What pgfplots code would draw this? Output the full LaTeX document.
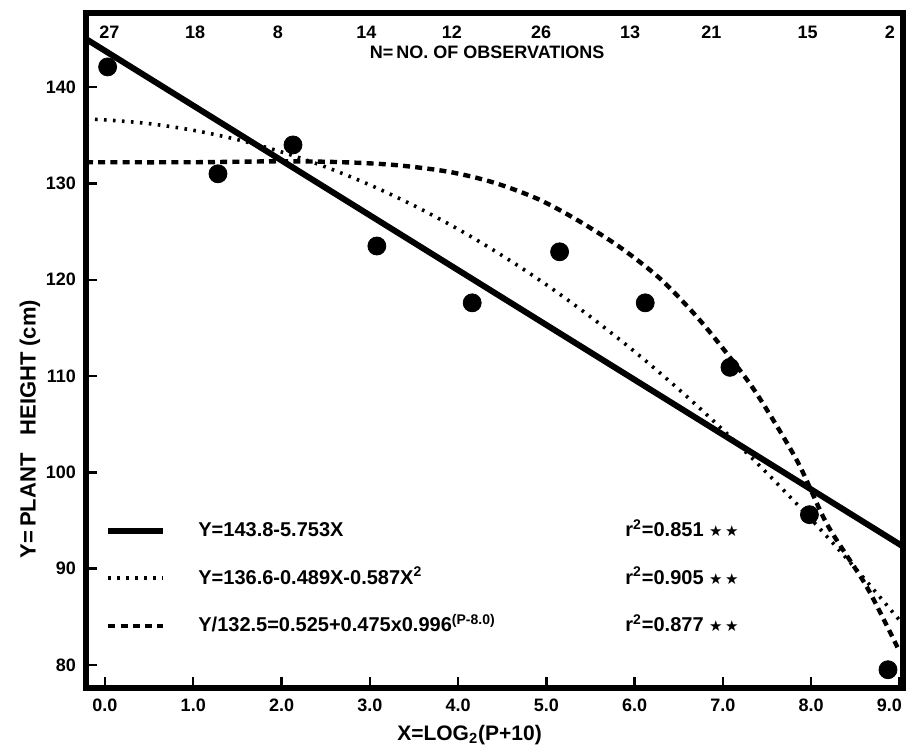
\documentclass[border=0pt]{standalone}
\usepackage{fontspec}
\setmainfont{Liberation Sans}
\newfontfamily\sym{DejaVu Sans}
\usepackage{pgfplots}
\pgfplotsset{compat=1.18}
\usetikzlibrary{calc}

\newcommand{\stars}{{\sym\fontsize{7.5}{8}\selectfont ★\,★}}

\begin{document}
\begin{tikzpicture}
\begin{axis}[
  scale only axis,
  width=408.5pt, height=337.5pt,
  xmin=-0.215, xmax=9.04,
  ymin=77.6, ymax=147.7,
  axis line style={line width=2.6pt},
  xtick={0,1,2,3,4,5,6,7,8,9},
  xticklabels={\textbf{0.0},\textbf{1.0},\textbf{2.0},\textbf{3.0},\textbf{4.0},\textbf{5.0},\textbf{6.0},\textbf{7.0},\textbf{8.0},{\textbf{9.0}\rule{10pt}{0pt}}},
  ytick={80,90,100,110,120,130,140},
  yticklabels={\textbf{80},\textbf{90},\textbf{100},\textbf{110},\textbf{120},\textbf{130},\textbf{140}},
  tick align=inside,
  xtick pos=bottom, ytick pos=left,
  major tick length=5.5pt,
  tick style={line width=1.2pt, black},
  ticklabel style={font=\bfseries\fontsize{9}{10}\selectfont},
  xticklabel style={yshift=-2pt},
  yticklabel style={xshift=-1.5pt},
  clip=false,
  legend image code/.code={
    \draw[#1] (0pt,0pt) -- (27.5pt,0pt);
    \path[draw=none] (0pt,0pt) -- (45pt,0pt);
  },
  legend style={at={(axis cs:0,89.0)}, anchor=west, draw=none, fill=none,
    inner sep=0pt, row sep=13.75pt,
    nodes={inner sep=0pt, text height=8pt, text depth=2pt,
      font=\bfseries\fontsize{10}{12}\selectfont}},
  legend cell align=left,
]
% fitted lines
\addplot[black, line width=3pt] coordinates {(-0.215,145.0) (9.04,92.3)};
\addlegendentry{\makebox[213.5pt][l]{Y=143.8-5.753X}r\textsuperscript{2}=0.851 \stars}

\addplot[black, line width=1.8pt, dash pattern=on 1.3pt off 3.2pt, smooth]
  coordinates {(-0.215,136.68) (0,136.6) (0.5,136.21) (1,135.52) (1.5,134.55) (2,133.27)
    (2.5,131.71) (3,129.85) (3.5,127.70) (4,125.25) (4.5,122.51) (5,119.48) (5.5,116.15)
    (6,112.53) (6.5,108.62) (7,104.41) (7.5,99.91) (8,95.12) (8.5,90.03) (9,84.65) (9.04,84.2)};
\addlegendentry{\makebox[213.5pt][l]{Y=136.6-0.489X-0.587X\textsuperscript{2}}r\textsuperscript{2}=0.905 \stars}

\addplot[black, line width=2.2pt, dash pattern=on 3.5pt off 2.6pt, smooth]
  coordinates {(-0.215,132.2) (1,132.2) (2,132.3) (2.7,132.2) (3.3,131.9) (3.9,131.2)
    (4.4,130.1) (4.9,128.4) (5.35,126.2) (5.83,123.4) (6.29,120.1) (6.7,116.2) (7.04,112.4)
    (7.38,108.2) (7.84,101.2) (8.18,94.6) (8.63,88.1) (9.0,81.4)};
\addlegendentry{\makebox[213.5pt][l]{Y/132.5=0.525+0.475x0.996\textsuperscript{(P-8.0)}}r\textsuperscript{2}=0.877 \stars}

% observed means
\addplot[only marks, mark=*, mark size=4.5pt, black, forget plot]
  coordinates {(0.03,142.1) (1.28,131.0) (2.13,134.0) (3.08,123.5) (4.16,117.6)
    (5.15,122.9) (6.12,117.6) (7.08,110.9) (7.98,95.6) (8.87,79.5)};

% number of observations along the top
\begin{scope}[every node/.style={font=\bfseries\fontsize{9}{10}\selectfont}]
\node at (axis cs:0.05,145.7) {27};
\node at (axis cs:1.02,145.7) {18};
\node at (axis cs:1.96,145.7) {8};
\node at (axis cs:2.96,145.7) {14};
\node at (axis cs:3.93,145.7) {12};
\node at (axis cs:4.94,145.7) {26};
\node at (axis cs:5.95,145.7) {13};
\node at (axis cs:6.87,145.7) {21};
\node at (axis cs:7.96,145.7) {15};
\node at (axis cs:8.89,145.7) {2};
\node at (axis cs:4.33,143.6) {N=\,NO. OF OBSERVATIONS};
\end{scope}

\node[font=\bfseries\fontsize{10.5}{12}\selectfont] at (axis cs:4.13,72.7) {X=LOG\textsubscript{2}(P+10)};
\node[rotate=90, font=\bfseries\fontsize{11}{12}\selectfont] at (axis cs:-0.85,104.5)
  {Y=\,PLANT\hspace{9pt}HEIGHT\hspace{3pt}(cm)};
\end{axis}
\pgfresetboundingbox
\path ($(current axis.south west)+(-43pt,-31pt)$) rectangle ($(current axis.north east)+(3pt,6.5pt)$);
\end{tikzpicture}
\end{document}
